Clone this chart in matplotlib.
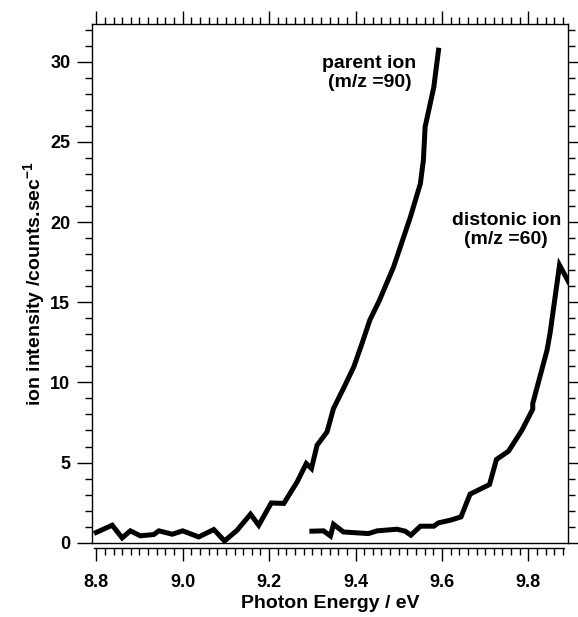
import numpy as np
import matplotlib
matplotlib.use('Agg')
import matplotlib.pyplot as plt
from matplotlib.ticker import MultipleLocator

plt.rcParams['font.family'] = ['Liberation Sans', 'DejaVu Sans']
plt.rcParams['font.weight'] = 'bold'
plt.rcParams['mathtext.fontset'] = 'custom'
plt.rcParams['mathtext.rm'] = 'Liberation Sans:bold'
plt.rcParams['mathtext.bf'] = 'Liberation Sans:bold'
plt.rcParams['mathtext.default'] = 'bf'

# parent ion (m/z = 90)
parent_E = [8.80, 8.837, 8.86, 8.879, 8.902, 8.933, 8.945, 8.976, 9.0, 9.037,
            9.072, 9.097, 9.126, 9.157, 9.176, 9.205, 9.234, 9.265, 9.286, 9.298,
            9.311, 9.334, 9.349, 9.372, 9.396, 9.415, 9.433, 9.455, 9.488, 9.527,
            9.55, 9.557, 9.561, 9.581, 9.592]
parent_I = [0.64, 1.09, 0.30, 0.74, 0.43, 0.51, 0.74, 0.53, 0.74, 0.36,
            0.82, 0.11, 0.78, 1.78, 1.09, 2.48, 2.45, 3.80, 4.94, 4.63,
            6.08, 6.91, 8.37, 9.62, 10.97, 12.43, 13.88, 15.10, 17.20, 20.32,
            22.40, 23.86, 25.94, 28.40, 30.72]

# distonic ion (m/z = 60)
dist_E = [9.299, 9.326, 9.342, 9.349, 9.372, 9.43, 9.45, 9.496, 9.515, 9.528,
          9.55, 9.581, 9.592, 9.619, 9.644, 9.665, 9.71, 9.726, 9.754, 9.785,
          9.81, 9.81, 9.843, 9.85, 9.872, 9.893]
dist_I = [0.72, 0.74, 0.42, 1.15, 0.67, 0.57, 0.74, 0.84, 0.72, 0.47,
          1.03, 1.03, 1.24, 1.40, 1.61, 3.03, 3.63, 5.19, 5.71, 7.02,
          8.33, 8.68, 12.00, 13.05, 17.31, 16.27]

fig = plt.figure(figsize=(5.78, 6.17), dpi=100)
ax = fig.add_axes([0.159, 0.1204, 0.824, 0.8406])

ax.plot(parent_E, parent_I, color='k', lw=3.6, solid_joinstyle='miter')
ax.plot(dist_E, dist_I, color='k', lw=3.6, solid_joinstyle='miter')

ax.set_xlim(8.79, 9.892)
ax.set_ylim(0, 32.35)

ax.xaxis.set_major_locator(MultipleLocator(0.2))
ax.xaxis.set_minor_locator(MultipleLocator(0.02))
ax.yaxis.set_major_locator(MultipleLocator(5))
ax.yaxis.set_minor_locator(MultipleLocator(1))
ax.xaxis.set_major_formatter(matplotlib.ticker.FormatStrFormatter('%.1f'))

for s in ax.spines.values():
    s.set_linewidth(1.0)
# bottom axis stands off the frame a little
ax.spines['bottom'].set_position(('outward', 4))
ax.spines['bottom'].set_bounds(8.794, 9.882)
ax.plot([0, 1], [0, 0], transform=ax.transAxes, color='k', lw=1.0, clip_on=False)

ax.tick_params(which='both', direction='out', top=True, right=True, width=1.0)
ax.tick_params(which='major', length=10.5, labelsize=13)
ax.tick_params(which='minor', length=5)
ax.tick_params(axis='x', which='major', length=9.5, pad=9)
ax.tick_params(axis='y', which='major', pad=5)

for lab in ax.get_xticklabels() + ax.get_yticklabels():
    lab.set_fontweight('bold')

ax.set_xlabel('Photon Energy / eV', fontsize=14, fontweight='bold', labelpad=3)
ax.set_ylabel(r'ion intensity /counts.sec$^{-1}$', fontsize=14, fontweight='bold', labelpad=2)

ax.text(9.432, 29.3, 'parent ion\n(m/z =90)', ha='center', va='center',
        fontsize=14, fontweight='bold', linespacing=1.2)
ax.text(9.749, 19.5, 'distonic ion\n(m/z =60)', ha='center', va='center',
        fontsize=14, fontweight='bold', linespacing=1.2)

fig.savefig('out.png', dpi=100)
